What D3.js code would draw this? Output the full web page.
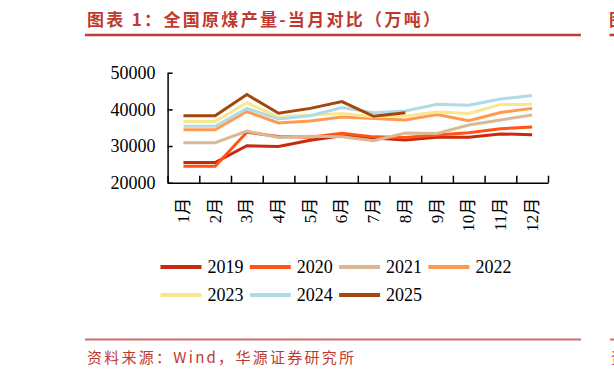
<!DOCTYPE html>
<html>
<head>
<meta charset="utf-8">
<script src="https://cdn.jsdelivr.net/npm/d3@7/dist/d3.min.js"></script>
<style>
  html, body { margin: 0; padding: 0; background: #ffffff; }
  svg { display: block; }
</style>
</head>
<body>
<svg id="chart" width="614" height="378"></svg>
<script>
// ---- data ----
const months = ["1月","2月","3月","4月","5月","6月","7月","8月","9月","10月","11月","12月"];
const yTicks = [20000, 30000, 40000, 50000];
const years = ["2019","2020","2021","2022","2023","2024","2025"];
const v2019 = [25500, 25500, 30095, 29851, 31549, 32800, 32200, 31635, 32400, 32400, 33308, 33100];
const v2020 = [24470, 24470, 33733, 32600, 32400, 33450, 32500, 32300, 33000, 33600, 34700, 35200];
const v2021 = [30922, 30922, 34077, 32325, 32700, 32500, 31450, 33532, 33437, 35714, 37117, 38467];
const v2022 = [34466, 34466, 39400, 36300, 36800, 37917, 37500, 37100, 38600, 36921, 39131, 40269];
const v2023 = [36688, 36688, 41800, 37900, 38429, 38900, 38000, 38200, 39300, 38900, 41339, 41367];
const v2024 = [35378, 35378, 40270, 37372, 38246, 40500, 39100, 39550, 41411, 41100, 42800, 43800];
const v2025 = [38265, 38265, 44058, 38931, 40267, 42107, 38099, 39050];
const seriesValues = [v2019, v2020, v2021, v2022, v2023, v2024, v2025];
const colors = ["#C9290D", "#FF5414", "#D8B997", "#FF9A50", "#F7E78E", "#B0DAE6", "#A2470F"];

const titleText = "图表 1：全国原煤产量-当月对比（万吨）";
const sourceText = "资料来源：Wind，华源证券研究所";

// ---- drawing ----
const svg = d3.select("#chart");
const red = "#C0392F";

// title & rules
svg.append("text").attr("x", 87).attr("y", 26)
  .attr("font-family", "'Noto Sans CJK SC', sans-serif").attr("font-weight", "bold")
  .attr("font-size", 17).attr("fill", red)
  .attr("textLength", 353).attr("lengthAdjust", "spacing")
  .text(titleText);
svg.append("line").attr("x1", 85).attr("x2", 581).attr("y1", 35).attr("y2", 35)
  .attr("stroke", "#C23A3A").attr("stroke-width", 2.5);
svg.append("text").attr("x", 609).attr("y", 26)
  .attr("font-family", "'Noto Sans CJK SC', sans-serif").attr("font-weight", "bold")
  .attr("font-size", 17).attr("fill", red).text("图表 2");
svg.append("line").attr("x1", 609.5).attr("x2", 700).attr("y1", 35).attr("y2", 35)
  .attr("stroke", "#C23A3A").attr("stroke-width", 2.5);

svg.append("line").attr("x1", 85).attr("x2", 581).attr("y1", 339.5).attr("y2", 339.5)
  .attr("stroke", "#D46A6A").attr("stroke-width", 2);
svg.append("line").attr("x1", 610).attr("x2", 700).attr("y1", 339.5).attr("y2", 339.5)
  .attr("stroke", "#D46A6A").attr("stroke-width", 2);
svg.append("text").attr("x", 87).attr("y", 363)
  .attr("font-family", "'Noto Sans CJK SC', sans-serif")
  .attr("font-size", 15).attr("fill", "#C0392F")
  .attr("textLength", 267).attr("lengthAdjust", "spacing")
  .text(sourceText);
svg.append("text").attr("x", 611).attr("y", 363)
  .attr("font-family", "'Noto Sans CJK SC', sans-serif")
  .attr("font-size", 15).attr("fill", "#C0392F").text("资");

// scales
const x0 = 167.6, x1 = 548, yTop = 72.7, yBot = 182.7;
const x = d3.scaleBand().domain(months).range([x0, x1]).padding(0);
const xb = d3.scaleLinear().domain([0, 12]).range([x0, x1]);
const y = d3.scaleLinear().domain([20000, 50000]).range([yBot, yTop]);

const serif = "'Liberation Serif', 'Times New Roman', 'Noto Sans CJK SC', serif";

// y axis
const yAxis = svg.append("g").attr("transform", `translate(${x0},0)`)
  .call(d3.axisLeft(y).tickValues(yTicks).tickFormat(d3.format("d"))
    .tickSizeInner(-5).tickSizeOuter(0).tickPadding(12));
yAxis.selectAll("text").attr("font-family", serif).attr("font-size", 18).attr("fill", "#000");
yAxis.selectAll("line,path").attr("stroke", "#000").attr("stroke-width", 1.5);

// x axis boundary ticks
const xAxisG = svg.append("g").attr("transform", `translate(0,${yBot})`)
  .call(d3.axisBottom(xb).tickValues(d3.range(0, 13)).tickFormat("")
    .tickSizeInner(-7).tickSizeOuter(0));
xAxisG.selectAll("line,path").attr("stroke", "#000").attr("stroke-width", 1.5);

// x labels (rotated)
const xLab = svg.append("g").attr("transform", `translate(0,${yBot})`)
  .call(d3.axisBottom(x).tickSize(0).tickPadding(0));
xLab.select(".domain").remove();
xLab.selectAll("text")
  .attr("font-family", serif).attr("font-size", 17).attr("fill", "#000")
  .attr("text-anchor", "end").attr("dy", null).attr("y", null)
  .attr("dominant-baseline", "central")
  .attr("transform", "translate(0,15) rotate(-90)");

// lines
const line = d3.line()
  .x((d, i) => x(months[i]) + x.bandwidth() / 2)
  .y(d => y(d));
svg.append("g").selectAll("path")
  .data(seriesValues)
  .join("path")
  .attr("d", d => line(d))
  .attr("fill", "none")
  .attr("stroke", (d, i) => colors[i])
  .attr("stroke-width", 3)
  .attr("stroke-linejoin", "miter");

// legend
const lg = svg.append("g");
years.forEach((yr, i) => {
  const row = Math.floor(i / 4), col = i % 4;
  const lx = 160.5 + col * 89.3, ly = 267 + row * 28;
  lg.append("line").attr("x1", lx).attr("x2", lx + 41).attr("y1", ly).attr("y2", ly)
    .attr("stroke", colors[i]).attr("stroke-width", 4);
  lg.append("text").attr("x", lx + 47).attr("y", ly)
    .attr("dominant-baseline", "central")
    .attr("font-family", serif).attr("font-size", 18).attr("fill", "#000")
    .text(yr);
});
</script>
</body>
</html>
